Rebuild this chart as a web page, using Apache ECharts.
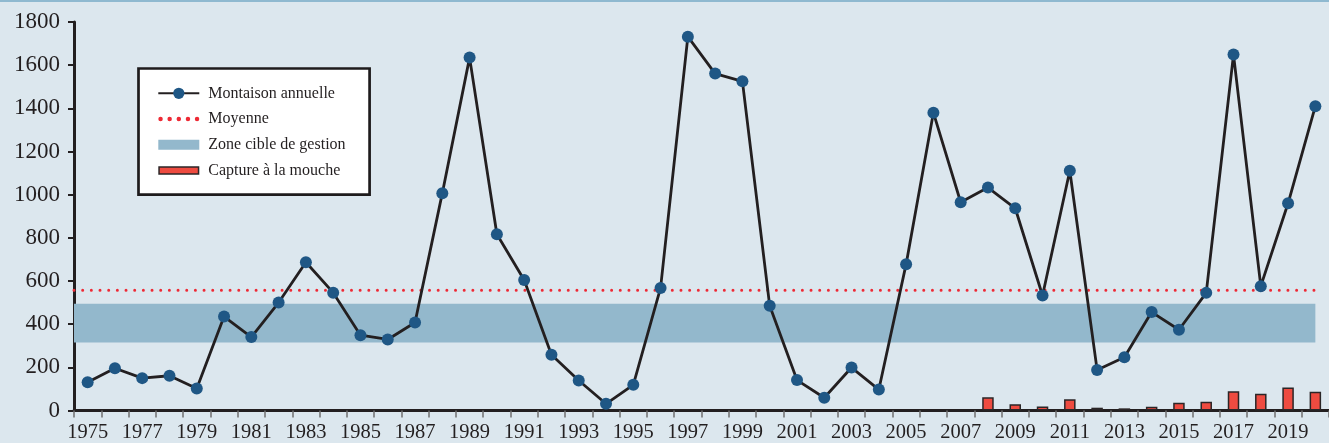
<!DOCTYPE html>
<html>
<head>
<meta charset="utf-8">
<script src="https://cdn.jsdelivr.net/npm/echarts@6/dist/echarts.min.js"></script>
<style>
  html, body { margin: 0; padding: 0; }
  #chart {
    width: 1329px;
    height: 443px;
    background: linear-gradient(#8fb9d0 0, #8fb9d0 2px, #dce7ee 2px);
  }
</style>
</head>
<body>
<div id="chart"></div>
<script>
// annual run, 1975 - 2020
const years = []
for (let y = 1975; y <= 2020; y++) years.push(String(y))

const montaison = [
  131, 196, 150, 161, 102, 435, 340, 500, 687, 546,
  349, 329, 408, 1007, 1635, 817, 605, 258, 139, 31,
  119, 568, 1732, 1561, 1525, 485, 141, 59, 199, 97,
  678, 1380, 965, 1033, 937, 533, 1111, 188, 247, 456,
  374, 545, 1649, 576, 960, 1410
]

// fly fishing catch, only from 2008
const capture = [
  null, null, null, null, null, null, null, null, null, null,
  null, null, null, null, null, null, null, null, null, null,
  null, null, null, null, null, null, null, null, null, null,
  null, null, null, 61, 29, 19, 52, 13, 10, 17,
  36, 41, 89, 78, 106, 87
]

const moyenne = 557
const zoneCible = [315, 495]

const yTicks = { min: 0, max: 1800, interval: 200 }

const font = 'Liberation Serif'
const ink = '#231f20'

const chart = echarts.init(document.getElementById('chart'), null, { renderer: 'canvas' })

const option = {
  backgroundColor: 'transparent',
  animation: false,
  textStyle: { fontFamily: font, color: ink },
  grid: {
    left: 74,
    right: 0,
    top: 22,
    bottom: 32.5,
    outerBoundsMode: 'none'
  },
  legend: {
    orient: 'vertical',
    left: 138.5,
    top: 68.5,
    padding: [16.8, 24, 16.3, 18.8],
    itemWidth: 41,
    itemHeight: 14,
    itemGap: 9.7,
    backgroundColor: '#ffffff',
    borderColor: '#1e1b1c',
    borderWidth: 2.7,
    selectedMode: false,
    textStyle: {
      fontFamily: font,
      fontSize: 16,
      color: ink,
      padding: [0, 0, 0, 4]
    },
    data: [
      { name: 'Montaison annuelle' },
      {
        name: 'Moyenne',
        icon: 'path://M0 0M41 14M0 7a2.25 2.25 0 1 0 4.5 0a2.25 2.25 0 1 0 -4.5 0M9.1 7a2.25 2.25 0 1 0 4.5 0a2.25 2.25 0 1 0 -4.5 0M18.25 7a2.25 2.25 0 1 0 4.5 0a2.25 2.25 0 1 0 -4.5 0M27.4 7a2.25 2.25 0 1 0 4.5 0a2.25 2.25 0 1 0 -4.5 0M36.5 7a2.25 2.25 0 1 0 4.5 0a2.25 2.25 0 1 0 -4.5 0',
        itemStyle: { color: '#ee2a35', borderWidth: 0 }
      },
      {
        name: 'Zone cible de gestion',
        icon: 'path://M0 0M41 14M0 2L41 2L41 12L0 12Z',
        itemStyle: { color: '#93b8cc', borderWidth: 0 }
      },
      {
        name: 'Capture à la mouche',
        icon: 'path://M0 0M41 14M0.75 3.5L40.25 3.5L40.25 10.5L0.75 10.5Z',
        itemStyle: { color: '#ee4b40', borderColor: '#2b2627', borderWidth: 1.5 }
      }
    ]
  },
  xAxis: [
    {
      type: 'category',
      data: years,
      boundaryGap: true,
      axisLine: { lineStyle: { color: ink, width: 3 } },
      axisTick: {
        show: true,
        interval: 0,
        alignWithLabel: false,
        length: 7,
        lineStyle: { color: '#6f6f6f', width: 1.5 }
      },
      axisLabel: {
        interval: 1,
        fontFamily: font,
        fontSize: 20.5,
        color: ink,
        margin: 12
      },
      splitLine: { show: false }
    },
    {
      // helper scale for the mean line, same extent as the category axis
      type: 'value',
      min: 0,
      max: years.length,
      show: false
    }
  ],
  yAxis: {
    type: 'value',
    min: yTicks.min,
    max: yTicks.max,
    interval: yTicks.interval,
    axisLine: { show: true, lineStyle: { color: ink, width: 3 } },
    axisTick: { show: true, length: 6, lineStyle: { color: ink, width: 2 } },
    axisLabel: {
      fontFamily: font,
      fontSize: 23,
      color: ink,
      margin: 14,
      formatter: (v) => String(v)
    },
    splitLine: { show: false }
  },
  series: [
    {
      name: 'Zone cible de gestion',
      type: 'line',
      data: [],
      z: 1,
      itemStyle: { color: '#93b8cc' },
      markArea: {
        silent: true,
        itemStyle: { color: '#93b8cc', opacity: 1 },
        data: [
          [
            { yAxis: zoneCible[0] },
            { xAxis: years[years.length - 1], yAxis: zoneCible[1] }
          ]
        ]
      }
    },
    {
      name: 'Moyenne',
      type: 'line',
      xAxisIndex: 1,
      data: [[0, moyenne], [years.length - 0.5, moyenne]],
      symbol: 'none',
      z: 2,
      itemStyle: { color: '#ee2a35' },
      lineStyle: {
        color: '#ee2a35',
        width: 3,
        type: [0.001, 8.67],
        cap: 'round'
      }
    },
    {
      name: 'Capture à la mouche',
      type: 'bar',
      data: capture,
      barWidth: 11.5,
      z: 3,
      itemStyle: {
        color: '#ee4b40',
        borderColor: '#2b2627',
        borderWidth: 1.5
      }
    },
    {
      name: 'Montaison annuelle',
      type: 'line',
      data: montaison,
      symbol: 'circle',
      symbolSize: 12,
      z: 5,
      clip: false,
      itemStyle: { color: '#1f5785' },
      lineStyle: { color: ink, width: 2.8 }
    }
  ]
}

chart.setOption(option)
</script>
</body>
</html>
